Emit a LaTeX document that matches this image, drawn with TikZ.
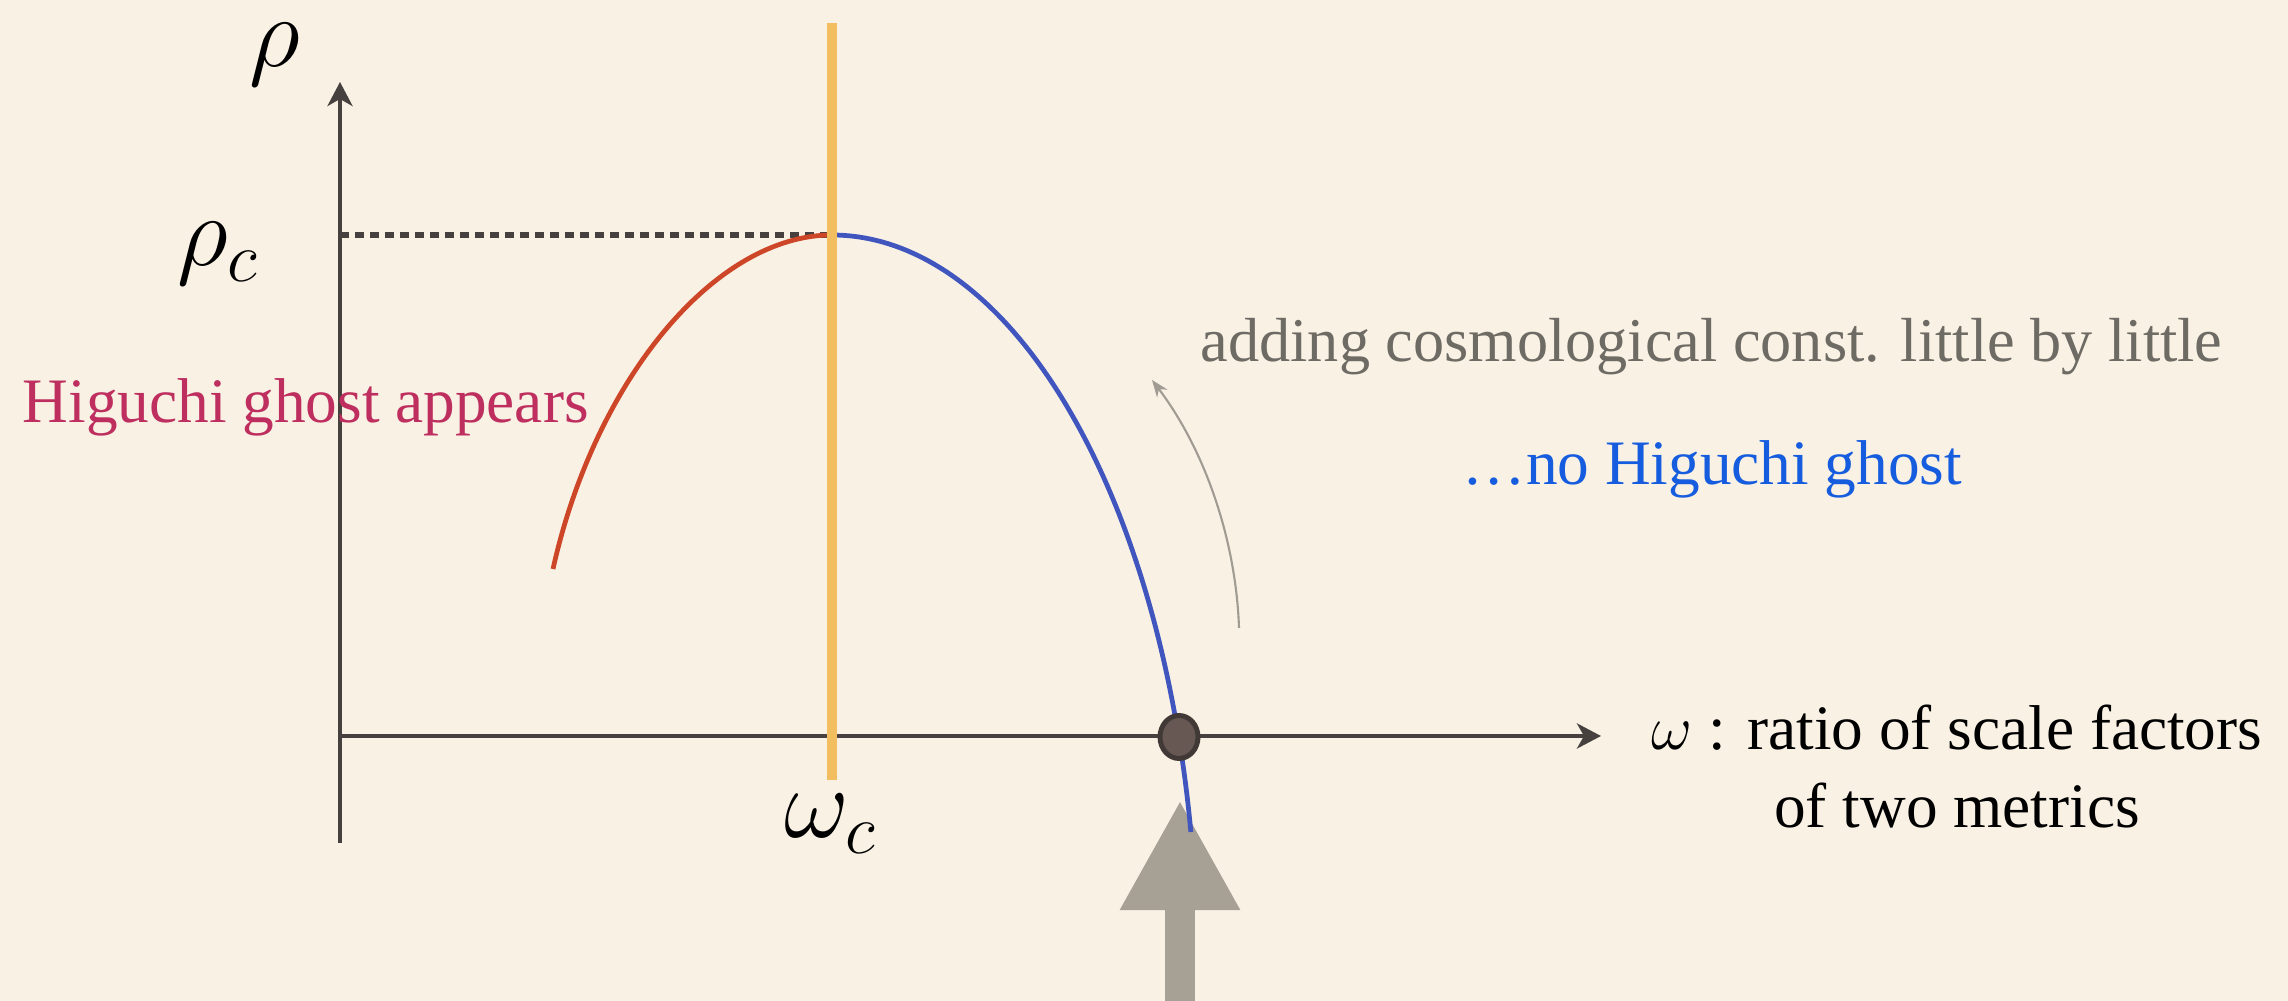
\RequirePackage{fix-cm}
\documentclass[tikz,border=0pt]{standalone}
\usepackage{fontspec}
\setmainfont{Liberation Serif}
\usepackage{tikz}
\usetikzlibrary{arrows.meta}
\usetikzlibrary{positioning, shapes.geometric, calc}

\begin{document}
\begin{tikzpicture}[
      % Coordinate in pixel dell'immagine di riferimento (y verso il basso)
      x=0.01cm,
      y=-0.01cm,
      line join=round,
      font=\fontsize{18}{22}\selectfont
  ]

  % Parametri del ramo blu (arco di ellisse)
  \def\ax{365}  % semiasse orizzontale
  \def\by{730}  % semiasse verticale

  % Palette cromatica
  \definecolor{paperbg}{RGB}{248, 241, 228}
  \definecolor{axisgray}{RGB}{70, 64, 62}
  \definecolor{branchred}{RGB}{206, 70, 40}
  \definecolor{branchblue}{RGB}{64, 86, 190}
  \definecolor{critorange}{RGB}{243, 190, 96}
  \definecolor{dotfill}{RGB}{104, 88, 84}
  \definecolor{dotedge}{RGB}{64, 57, 54}
  \definecolor{bigarrowgray}{RGB}{166, 160, 149}
  \definecolor{liftgray}{RGB}{160, 155, 147}
  \definecolor{notegray}{RGB}{110, 106, 100}
  \definecolor{labelcrimson}{RGB}{190, 46, 94}
  \definecolor{labelblue}{RGB}{22, 92, 222}

  \tikzset{
      axisline/.style={draw=axisgray, line width=1.3pt},
      refline/.style={draw=axisgray, line width=1.5pt, dash pattern=on 0.09cm off 0.06cm},
      redbranch/.style={draw=branchred, line width=1.35pt},
      bluebranch/.style={draw=branchblue, line width=1.35pt},
      critline/.style={draw=critorange, line width=0.1cm},
      dotnode/.style={ellipse, draw=dotedge, fill=dotfill, line width=1.4pt,
                      minimum width=0.38cm, minimum height=0.43cm, inner sep=0pt},
      liftarrow/.style={draw=liftgray, line width=0.6pt, -{Stealth[length=0.17cm, width=0.13cm]}},
      bigarrow/.style={draw=bigarrowgray, line width=0.3cm, -{Triangle[length=1.1cm, width=1.12cm]}},
      mathlabel/.style={font=\fontsize{28.5}{34}\selectfont, inner sep=0pt},
      textlabel/.style={inner sep=0pt}
  }

  % 0. Sfondo
  \fill[paperbg] (0, 0) rectangle (2288, 1001);
  \useasboundingbox (0, 0) rectangle (2288, 1001);

  % 1. Freccia grande dal basso verso il punto
  \coordinate (zeropt) at (1179, 737);
  \coordinate (zerofoot) at (1180, 1030);
  \draw[bigarrow] (zerofoot) -- ($(zeropt)+(1, 63)$);

  % 2. Assi
  \coordinate (yfoot) at (340, 843);
  \coordinate (ytip) at (340, 82);
  \coordinate (xstart) at (340, 736);
  \coordinate (xtip) at (1601, 736);
  \draw[axisline, -{Stealth[length=0.24cm, width=0.25cm, inset=0.07cm]}] (yfoot) -- (ytip);
  \draw[axisline, -{Stealth[length=0.24cm, width=0.25cm, inset=0.07cm]}] (xstart) -- (xtip);

  % 3. Livello critico rho_c
  \coordinate (rhocaxis) at (340, 235);
  \coordinate (peak) at (832, 235);
  \draw[refline] (rhocaxis) -- (peak);

  % 4. Rami della curva
  \coordinate (redstart) at (553, 569);
  \draw[redbranch] (redstart) .. controls (595, 380) and (715, 235) .. (peak);
  \draw[bluebranch] plot[domain=0:79.5, samples=80, smooth]
        ({832 + \ax*sin(\x)}, {235 + \by - \by*cos(\x)});

  % 5. Linea critica omega_c
  \coordinate (crittop) at (832, 23);
  \coordinate (critfoot) at (832, 780);
  \draw[critline] (crittop) -- (critfoot);

  % 6. Punto sull'asse
  \node[dotnode] (zero) at (zeropt) {};

  % 7. Freccia sottile
  \coordinate (liftfoot) at (1239, 628);
  \coordinate (lifttip) at (1152, 380);
  \draw[liftarrow] (liftfoot) .. controls (1236, 540) and (1205, 450) .. (lifttip);

  % 8. Etichette
  \node[mathlabel, anchor=base] (rholabel) at (275, 67) {$\rho$};
  \node[mathlabel, anchor=base] (rhoclabel) at (218, 266) {$\rho_c$};
  \node[mathlabel, anchor=base] (omegaclabel) at (831, 838) {$\omega_c$};

  \node[textlabel, anchor=base west, text=labelcrimson] (ghostlabel) at (22, 423) {Higuchi ghost appears};
  \node[textlabel, anchor=base west, text=notegray, font=\fontsize{17.7}{22}\selectfont] (lambdalabel) at (1200, 362) {adding cosmological const. little by little};
  \node[textlabel, anchor=base west, text=labelblue] (noghostlabel) at (1462, 485) {…no Higuchi ghost};
  \node[textlabel, anchor=base] (omegalabel) at (1957, 750) {$\omega$ : ratio of scale factors};
  \node[textlabel, anchor=base] (omegalabelb) at (1957, 828) {of two metrics};

\end{tikzpicture}
\end{document}
